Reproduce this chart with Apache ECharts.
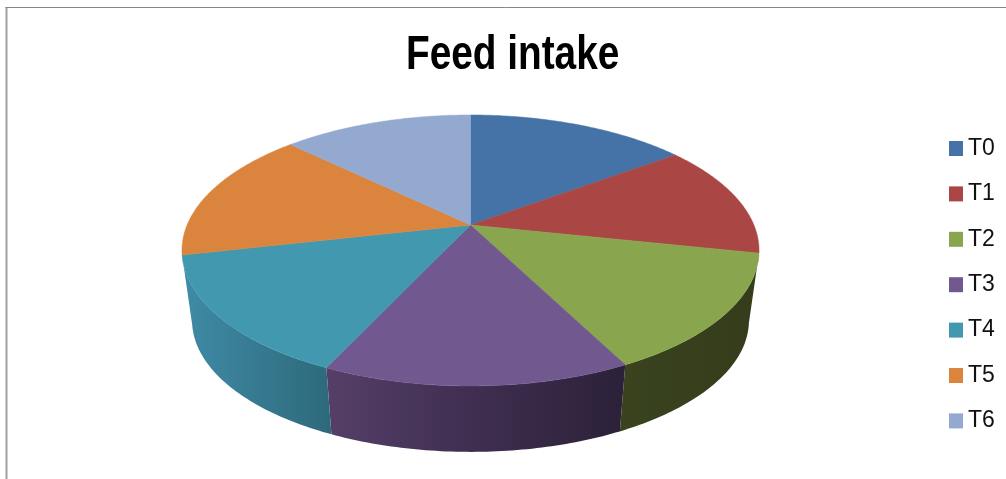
<!DOCTYPE html>
<html>
<head>
<meta charset="utf-8">
<style>html,body{margin:0;padding:0;background:#fff}#chart{width:1006px;height:479px}</style>
<script src="https://cdn.jsdelivr.net/npm/echarts@6/dist/echarts.min.js"></script>
</head>
<body>
<div id="chart"></div>
<script>
// Feed intake per treatment group
const categories = ['T0', 'T1', 'T2', 'T3', 'T4', 'T5', 'T6'];
const feedIntake = [148.5, 134.6, 141.7, 144.4, 145.3, 157.8, 127.5];
const chartTitle = 'Feed intake';
const sliceColors = ['#4572A7', '#AA4643', '#89A54E', '#71588F', '#4198AF', '#DB843D', '#93A9CF'];
// Rim shading, left to right, for the slices whose wall faces the viewer
const wallShades = {
  2: ['#3a431e', '#343c1b'],
  3: ['#553f68', '#3f2e50', '#2b2138'],
  4: ['#3f8ba6', '#2e697b']
};

const total = feedIntake.reduce((a, b) => a + b, 0);
const CX = 470.5, PIVOT_Y = 225, RX = 283.4, KY = 88.4, PERSP = 0.188;
const BASE_SX = 0.965, BASE_SY = 0.97, ELL_Y = 250, BASE_DROP = 70;

// Perspective projection of a disc rim point; angle runs clockwise from the far side
function rim(theta) {
  const c = Math.cos(theta), s = Math.sin(theta), w = 1 + PERSP * c;
  return [CX + RX * s / w, (PIVOT_Y - KY * c) / w];
}
function base(p) {
  return [CX + (p[0] - CX) * BASE_SX, ELL_Y + BASE_DROP + (p[1] - ELL_Y) * BASE_SY];
}
function arc(a0, a1, n) {
  const pts = [];
  for (let i = 0; i <= n; i++) pts.push(rim(a0 + (a1 - a0) * i / n));
  return pts;
}
// Portion of the rim that is turned toward the viewer
const FRONT_FROM = 101.9 * Math.PI / 180, FRONT_TO = 257.3 * Math.PI / 180;

function sliceRange(idx) {
  const before = feedIntake.slice(0, idx).reduce((a, b) => a + b, 0);
  return [before / total * 2 * Math.PI, (before + feedIntake[idx]) / total * 2 * Math.PI];
}

function makeRenderer(idx) {
  return function () {
    const [a0, a1] = sliceRange(idx);
    const color = sliceColors[idx];
    const children = [];
    const w0 = Math.max(a0, FRONT_FROM), w1 = Math.min(a1, FRONT_TO);
    if (w1 > w0 && wallShades[idx]) {
      const upper = arc(w0, w1, 60);
      const lower = upper.map(base).reverse();
      const shades = wallShades[idx];
      const fill = {
        type: 'linear', x: 0, y: 0, x2: 1, y2: 0,
        colorStops: shades.map((col, i) => ({ offset: i / (shades.length - 1), color: col }))
      };
      children.push({
        type: 'polygon',
        shape: { points: upper.concat(lower) },
        style: { fill: fill, stroke: null }
      });
    }
    const top = [[CX, PIVOT_Y]].concat(arc(a0, a1, 80));
    children.push({
      type: 'polygon',
      shape: { points: top },
      style: { fill: color, stroke: color, lineWidth: 0.5 }
    });
    return { type: 'group', children: children };
  };
}

const series = categories.map((name, idx) => ({
  type: 'custom',
  name: name,
  coordinateSystem: 'none',
  silent: true,
  animation: false,
  itemStyle: { color: sliceColors[idx] },
  data: [{ name: name, value: feedIntake[idx] }],
  renderItem: makeRenderer(idx)
}));

const chart = echarts.init(document.getElementById('chart'), null, { renderer: 'canvas' });
chart.setOption({
  animation: false,
  backgroundColor: '#ffffff',
  legend: {
    orient: 'vertical',
    left: 949,
    top: 137,
    padding: 0,
    itemWidth: 14,
    itemHeight: 15,
    itemGap: 22.4,
    icon: 'rect',
    selectedMode: false,
    data: categories,
    textStyle: {
      fontFamily: '"Liberation Sans", sans-serif',
      fontSize: 23,
      color: '#111111'
    }
  },
  graphic: [
    { type: 'line', silent: true,
      shape: { x1: 6.5, y1: 7, x2: 6.5, y2: 479 },
      style: { stroke: '#a0a0a0', lineWidth: 2 } },
    { type: 'line', silent: true,
      shape: { x1: 5.5, y1: 7.5, x2: 1006, y2: 7.5 },
      style: { stroke: '#868686', lineWidth: 1 } },
    // Narrowed bold heading
    { type: 'text', silent: true, x: 406, y: 56, scaleX: 0.816,
      style: {
        text: chartTitle,
        x: 0, y: 0,
        align: 'left',
        verticalAlign: 'middle',
        fill: '#000000',
        font: 'bold 47.5px "Liberation Sans", sans-serif'
      } }
  ],
  series: series
});
</script>
</body>
</html>
